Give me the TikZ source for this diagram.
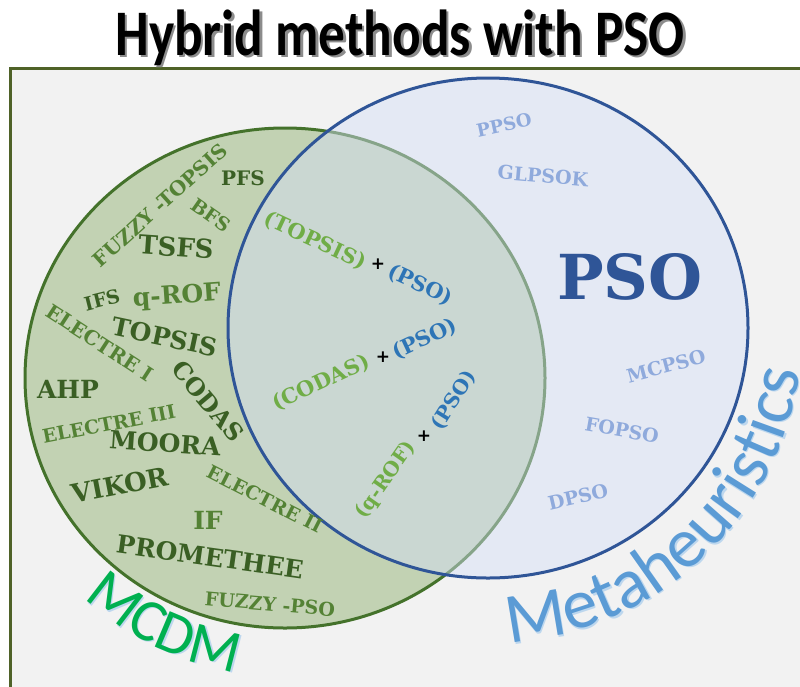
\documentclass[tikz,border=0pt]{standalone}
\usepackage{fontspec}
\usetikzlibrary{decorations.text}
\newfontfamily\capfont{Carlito}
\newfontfamily\labfont{DejaVu Serif}
\newfontfamily\plusfont{DejaVu Sans}
\newcommand\fsz[1]{\fontsize{#1}{#1}\selectfont}
\definecolor{dkgreen}{HTML}{3A5F24}
\definecolor{mdgreen}{HTML}{548235}
\definecolor{ltgreen}{HTML}{70AD47}
\definecolor{hyblue}{HTML}{2E75B6}
\definecolor{paleblue}{HTML}{8FAADC}
\definecolor{psoblue}{HTML}{2F5597}
\definecolor{mcdmgreen}{HTML}{00B050}
\definecolor{metablue}{HTML}{5B9BD5}
\definecolor{mcdmfill}{HTML}{C2D2B3}
\definecolor{mcdmline}{HTML}{44722B}
\definecolor{metafill}{HTML}{D5DFF8}
\definecolor{frameline}{HTML}{4F6228}
\definecolor{panel}{HTML}{F2F2F2}
\definecolor{glowblue}{HTML}{BDD7EE}
\begin{document}
\begin{tikzpicture}[x=1pt,y=1pt,
  labsz/.style={font=\labfont\bfseries\fsz{#1}, inner sep=0pt},
  dk/.style={text=dkgreen}, md/.style={text=mdgreen},
  lg/.style={text=ltgreen}, hb/.style={text=hyblue}, pb/.style={text=paleblue},
  plus/.style={font=\plusfont\bfseries\fsz{17}, inner sep=0pt, text=black},
  titletext/.style={font=\capfont\bfseries\fsz{65}, inner sep=0pt, anchor=base}]
\useasboundingbox (0,-686) rectangle (800,0);
\fill[white] (0,-686) rectangle (800,0);
% panel frame
\draw[frameline, line width=3, fill=panel] (10,-68) rectangle (815,-700);
% title with drop shadow
\node[titletext, text=black!45] (titleshadow) at (402.5,-57.5) {\scalebox{0.82}[1]{Hybrid methods with PSO}};
\node[titletext, text=black] (title) at (400,-55) {\scalebox{0.82}[1]{Hybrid methods with PSO}};
% the two sets
\draw[mcdmline, line width=3, fill=mcdmfill] (285,-378) ellipse [x radius=260, y radius=250];
\fill[metafill, fill opacity=0.46] (488,-328) ellipse [x radius=260, y radius=250];
\draw[psoblue, line width=3] (488,-328) ellipse [x radius=260, y radius=250];
% MCDM methods
\node[labsz=20, md, rotate=42] (fuzzytopsis) at (160,-205) {FUZZY -TOPSIS};
\node[labsz=20, dk] (pfs) at (243,-178) {PFS};
\node[labsz=19, md, rotate=-35] (bfs) at (211,-215) {BFS};
\node[labsz=26, dk, rotate=-4] (tsfs) at (176,-247) {TSFS};
\node[labsz=19, dk, rotate=14] (ifs) at (102,-300) {IFS};
\node[labsz=25, md, rotate=4] (qrof) at (177,-297) {q-ROF};
\node[labsz=20, md, rotate=-33] (electrei) at (100,-343) {ELECTRE I};
\node[labsz=25, dk, rotate=-12] (topsis) at (165,-337) {TOPSIS};
\node[labsz=24, dk, rotate=-50] (codas) at (208,-401) {CODAS};
\node[labsz=25, dk] (ahp) at (68,-389) {AHP};
\node[labsz=19, md, rotate=11] (electreiii) at (109,-424) {ELECTRE III};
\node[labsz=25, dk, rotate=-4] (moora) at (165,-443) {MOORA};
\node[labsz=26, dk, rotate=11] (vikor) at (120,-485) {VIKOR};
\node[labsz=19, md, rotate=-27] (electreii) at (265,-499) {ELECTRE II};
\node[labsz=25, md] (if) at (208,-520) {IF};
\node[labsz=25, dk, rotate=-8] (promethee) at (210,-557) {PROMETHEE};
\node[labsz=19, md, rotate=-5] (fuzzypso) at (270,-604) {FUZZY -PSO};
% hybrid combinations in the overlap
\node[labsz=21, lg, rotate=-25] (hTopsis) at (315,-241) {(TOPSIS)};
\node[plus] (plusA) at (378,-264) {+};
\node[labsz=21, hb, rotate=-25] (hPsoA) at (420,-285) {(PSO)};
\node[labsz=21, lg, rotate=25] (hCodas) at (321,-383) {(CODAS)};
\node[plus] (plusB) at (383,-357) {+};
\node[labsz=21, hb, rotate=25] (hPsoB) at (425,-339) {(PSO)};
\node[labsz=20, lg, rotate=55] (hQrof) at (386,-480) {(q-ROF)};
\node[plus] (plusC) at (424,-436) {+};
\node[labsz=20, hb, rotate=58] (hPsoC) at (454,-400) {(PSO)};
% PSO variants
\node[labsz=18, pb, rotate=12] (ppso) at (504,-125) {PPSO};
\node[labsz=19, pb, rotate=-5] (glpsok) at (543,-176) {GLPSOK};
\node[labsz=62, text=psoblue] (pso) at (630,-277) {PSO};
\node[labsz=19, pb, rotate=15] (mcpso) at (666,-366) {MCPSO};
\node[labsz=19, pb, rotate=-10] (fopso) at (622,-430) {FOPSO};
\node[labsz=19, pb, rotate=13] (dpso) at (578,-497) {DPSO};
% curved set names, each over a pale glow copy
\path[decorate, decoration={text along path, text align=center,
  text={|\capfont\fsz{60}\color{glowblue}|MCDM}}]
  (286.5,-379.5) ++(-138:298) arc[start angle=-138, end angle=-94, radius=298];
\path[decorate, decoration={text along path, text align=center,
  text={|\capfont\fsz{60}\color{mcdmgreen}|MCDM}}]
  (285,-378) ++(-138:298) arc[start angle=-138, end angle=-94, radius=298];
\path[decorate, decoration={text along path, text align=center,
  text={|\capfont\fsz{71}\color{glowblue}|Metaheuristics}}]
  (489.5,-329.5) ++(-94:315) arc[start angle=-94, end angle=0, radius=315];
\path[decorate, decoration={text along path, text align=center,
  text={|\capfont\fsz{71}\color{metablue}|Metaheuristics}}]
  (488,-328) ++(-94:315) arc[start angle=-94, end angle=0, radius=315];
\end{tikzpicture}
\end{document}
